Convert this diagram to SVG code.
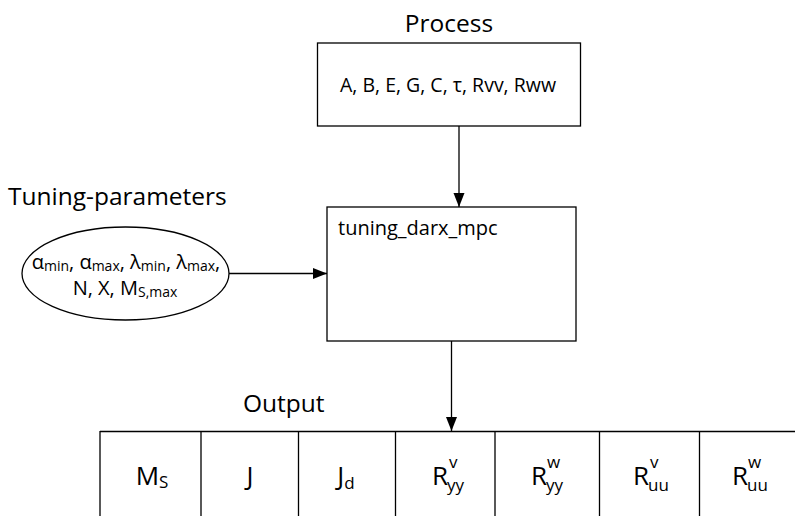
<svg xmlns="http://www.w3.org/2000/svg" width="795" height="516" viewBox="0 0 795 516">
<defs>
<style>
text{font-family:"Open Sans","Liberation Sans",sans-serif;fill:#000}
.box{fill:#fff;stroke:#000;stroke-width:1.3}
.ln{stroke:#000;stroke-width:1.3;fill:none}
.title{font-size:24.5px}
.cell{font-size:26px}
.sub{font-size:17px}
</style>
<marker id="ah" markerUnits="userSpaceOnUse" markerWidth="14" markerHeight="12" refX="14" refY="5.5" orient="auto">
<path d="M0,0 L14,5.5 L0,11 Z" fill="#000"/>
</marker>
</defs>
<rect width="795" height="516" fill="#fff"/>

<g id="process">
<text class="title" x="449" y="32" text-anchor="middle">Process</text>
<rect class="box" x="317.5" y="43" width="263" height="83"/>
<text x="448" y="92" text-anchor="middle" font-size="19.5">A, B, E, G, C, τ, Rvv, Rww</text>
</g>

<g id="tuning-parameters">
<text class="title" x="8" y="205">Tuning-parameters</text>
<ellipse class="box" cx="125.5" cy="273.5" rx="103.5" ry="46.5"/>
<text x="126" y="269" text-anchor="middle" font-size="20">α<tspan font-size="14" dy="2">min</tspan><tspan dy="-2">, α</tspan><tspan font-size="14" dy="2">max</tspan><tspan dy="-2">, λ</tspan><tspan font-size="14" dy="2">min</tspan><tspan dy="-2">, λ</tspan><tspan font-size="14" dy="2">max</tspan><tspan dy="-2">,</tspan></text>
<text x="125" y="295" text-anchor="middle" font-size="20">N, X, M<tspan font-size="14" dy="2">S,max</tspan></text>
</g>

<g id="tuning_darx_mpc">
<rect class="box" x="327" y="207" width="249" height="134"/>
<text x="338" y="235" font-size="20">tuning_darx_mpc</text>
</g>

<g id="output">
<text class="title" x="243" y="412">Output</text>
<path class="ln" d="M100,431.5 H795 M100,431 V516 M201,431 V516 M298.5,431 V516 M395.5,431 V516 M495,431 V516 M599.5,431 V516 M699.5,431 V516"/>
<text class="cell" x="152" y="485" text-anchor="middle">M<tspan class="sub" dy="3">S</tspan></text>
<text class="cell" x="250" y="485" text-anchor="middle">J</text>
<text class="cell" x="346" y="485" text-anchor="middle">J<tspan class="sub" dy="4">d</tspan></text>
<text class="cell" x="448" y="485" text-anchor="end">R</text><text class="sub" x="447" y="491">yy</text><text class="sub" x="449" y="468">v</text>
<text class="cell" x="547" y="485" text-anchor="end">R</text><text class="sub" x="546" y="491">yy</text><text class="sub" x="547" y="468">w</text>
<text class="cell" x="649" y="485" text-anchor="end">R</text><text class="sub" x="648" y="491">uu</text><text class="sub" x="650" y="468">v</text>
<text class="cell" x="748" y="485" text-anchor="end">R</text><text class="sub" x="747" y="491">uu</text><text class="sub" x="748" y="468">w</text>
</g>

<g id="connectors">
<line class="ln" x1="459" y1="126" x2="459" y2="207" marker-end="url(#ah)"/>
<line class="ln" x1="229" y1="273.5" x2="327" y2="273.5" marker-end="url(#ah)"/>
<line class="ln" x1="451.5" y1="341" x2="451.5" y2="431" marker-end="url(#ah)"/>
</g>
</svg>
